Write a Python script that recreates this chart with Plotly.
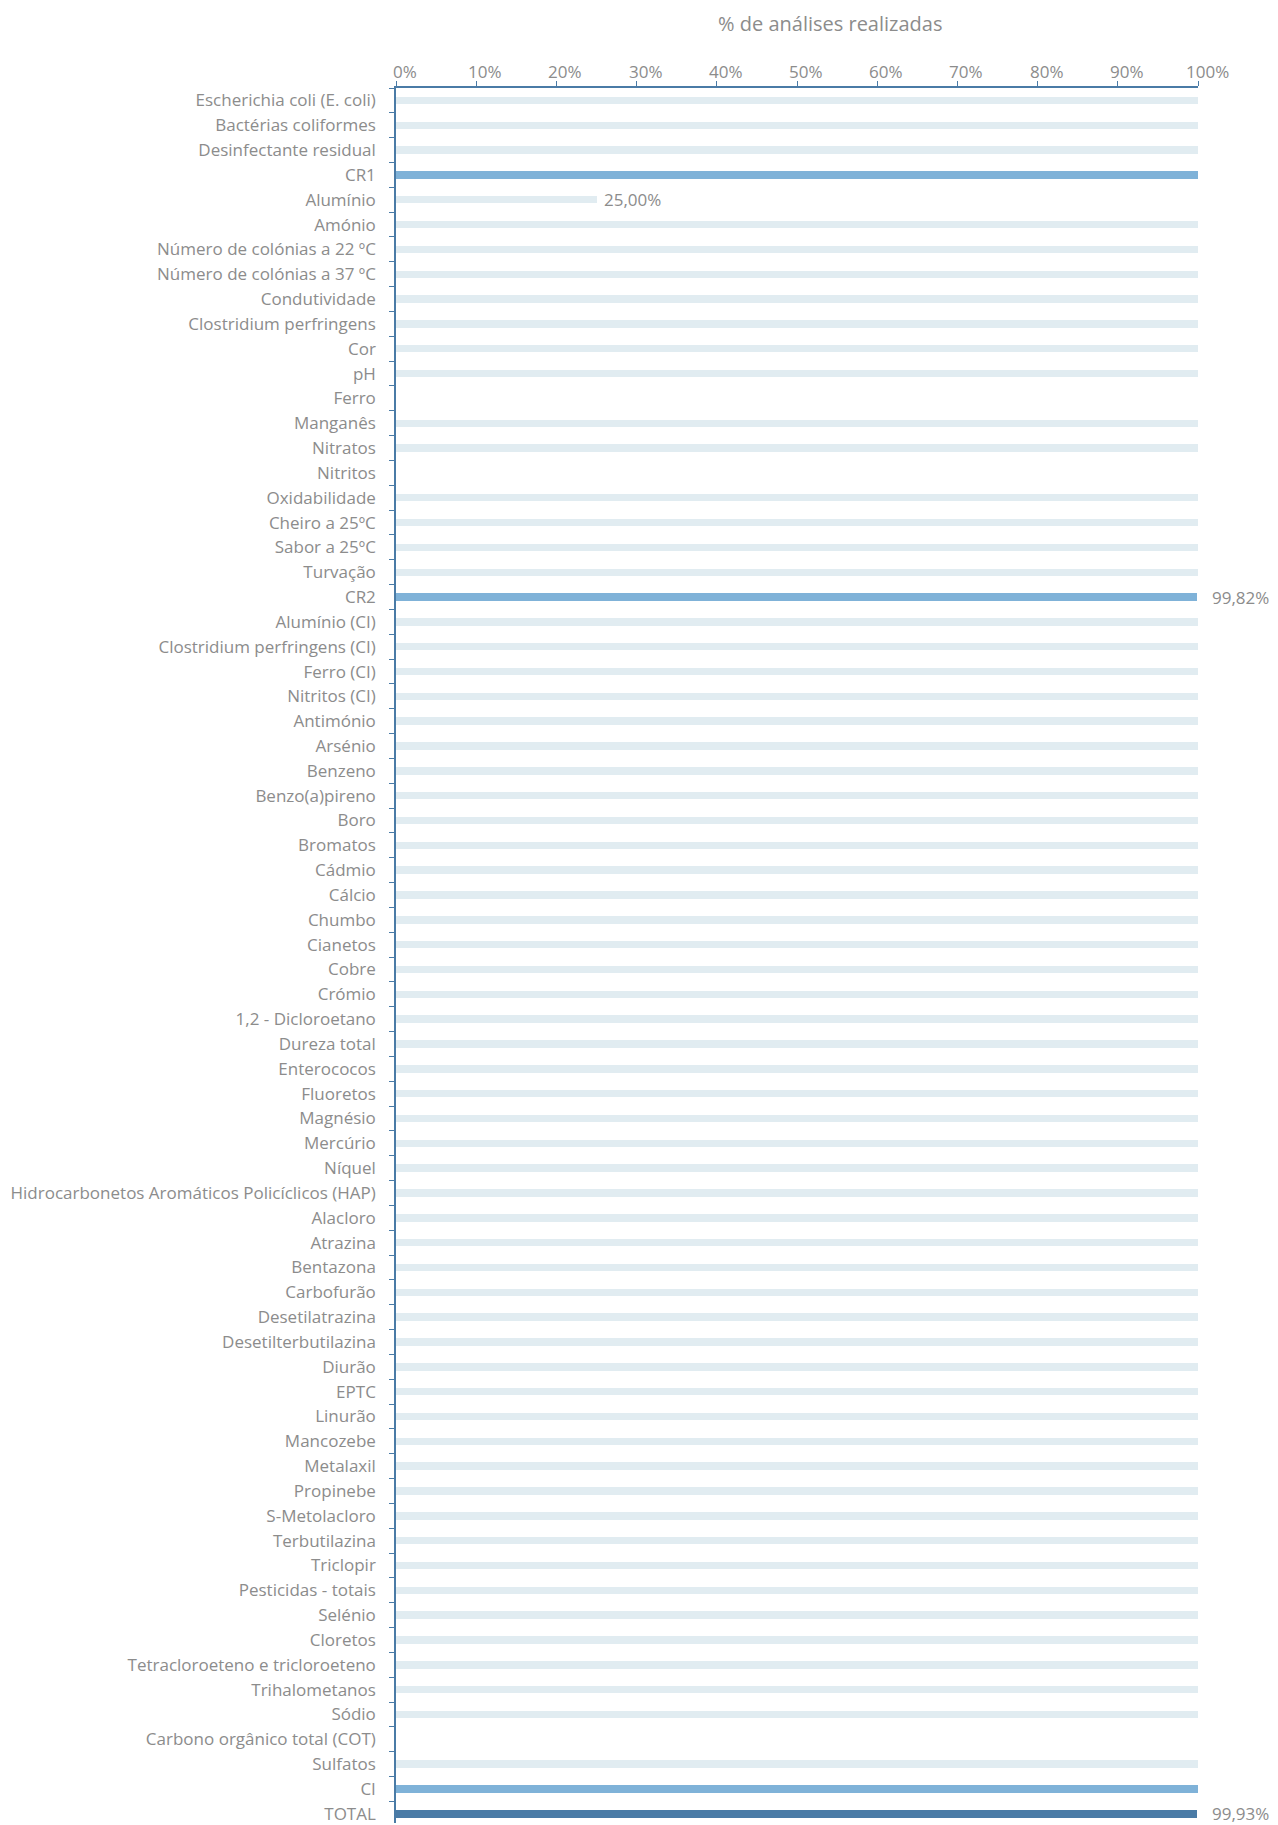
import plotly.graph_objects as go

categories = [
    "Escherichia coli (E. coli)", "Bactérias coliformes", "Desinfectante residual", "CR1",
    "Alumínio", "Amónio", "Número de colónias a 22 ºC", "Número de colónias a 37 ºC",
    "Condutividade", "Clostridium perfringens", "Cor", "pH", "Ferro", "Manganês",
    "Nitratos", "Nitritos", "Oxidabilidade", "Cheiro a 25ºC", "Sabor a 25ºC", "Turvação",
    "CR2", "Alumínio (CI)", "Clostridium perfringens (CI)", "Ferro (CI)", "Nitritos (CI)",
    "Antimónio", "Arsénio", "Benzeno", "Benzo(a)pireno", "Boro", "Bromatos", "Cádmio",
    "Cálcio", "Chumbo", "Cianetos", "Cobre", "Crómio", "1,2 - Dicloroetano",
    "Dureza total", "Enterococos", "Fluoretos", "Magnésio", "Mercúrio", "Níquel",
    "Hidrocarbonetos Aromáticos Policíclicos (HAP)", "Alacloro", "Atrazina", "Bentazona",
    "Carbofurão", "Desetilatrazina", "Desetilterbutilazina", "Diurão", "EPTC", "Linurão",
    "Mancozebe", "Metalaxil", "Propinebe", "S-Metolacloro", "Terbutilazina", "Triclopir",
    "Pesticidas - totais", "Selénio", "Cloretos", "Tetracloroeteno e tricloroeteno",
    "Trihalometanos", "Sódio", "Carbono orgânico total (COT)", "Sulfatos", "CI", "TOTAL",
]

values = [
    100, 100, 100, 100,
    25, 100, 100, 100,
    100, 100, 100, 100, 0, 100,
    100, 0, 100, 100, 100, 100,
    99.82, 100, 100, 100, 100,
    100, 100, 100, 100, 100, 100, 100,
    100, 100, 100, 100, 100, 100,
    100, 100, 100, 100, 100, 100,
    100, 100, 100, 100,
    100, 100, 100, 100, 100, 100,
    100, 100, 100, 100, 100, 100,
    100, 100, 100, 100,
    100, 100, 0, 100, 100, 99.93,
]

# categories that get a value label
labelled = {"Alumínio": "25,00%", "CR2": "99,82%", "TOTAL": "99,93%"}

x_ticks = [0, 10, 20, 30, 40, 50, 60, 70, 80, 90, 100]
x_tick_labels = ["0%", "10%", "20%", "30%", "40%", "50%", "60%", "70%", "80%", "90%", "100%"]

group_items = {"CR1", "CR2", "CI"}
total_items = {"TOTAL"}

LIGHT = "#E1ECF1"
MID = "#7FB2D8"
DARK = "#4A7BA6"
TEXT = "#8C8C8C"
AXIS = "#4A7BA6"
FONT = "Open Sans"

colors = []
for c in categories:
    if c in total_items:
        colors.append(DARK)
    elif c in group_items:
        colors.append(MID)
    else:
        colors.append(LIGHT)

fig = go.Figure(
    go.Bar(
        x=values,
        y=categories,
        orientation="h",
        marker=dict(color=colors, line=dict(width=0)),
        width=0.3,
        hoverinfo="skip",
    )
)

for c, lab in labelled.items():
    v = values[categories.index(c)]
    fig.add_annotation(
        x=v, y=c, text=lab, showarrow=False, xanchor="left",
        xshift=5 if v < 50 else 13,
        font=dict(family=FONT, size=17, color=TEXT),
    )

# top axis tick labels (slightly offset to the right, as in the original)
for tv, tl in zip(x_ticks, x_tick_labels):
    fig.add_annotation(
        x=tv, y=1, xref="x", yref="paper", text=tl, showarrow=False,
        xanchor="center", yanchor="middle", xshift=9, yshift=17,
        font=dict(family=FONT, size=17, color=TEXT),
    )

fig.add_annotation(
    x=0.5415, y=1, xref="paper", yref="paper", yanchor="bottom", yshift=49,
    text="% de análises realizadas", showarrow=False,
    font=dict(family=FONT, size=20, color=TEXT),
)

n = len(categories)
fig.update_layout(
    width=1270,
    height=1817,
    margin=dict(l=388, r=80, t=80, b=0, pad=0),
    plot_bgcolor="white",
    paper_bgcolor="white",
    showlegend=False,
    font=dict(family=FONT, size=17, color=TEXT),
    bargap=0,
)
fig.update_xaxes(
    side="top",
    range=[0, 100],
    tickvals=x_ticks,
    showticklabels=False,
    showgrid=False,
    zeroline=False,
    showline=True,
    linecolor=AXIS,
    linewidth=1.5,
    ticks="outside",
    ticklen=5,
    tickcolor=AXIS,
    fixedrange=True,
)
fig.update_yaxes(
    type="category",
    categoryorder="array",
    categoryarray=categories,
    range=[n - 0.63, -0.5],
    showgrid=False,
    zeroline=False,
    showline=True,
    linecolor=AXIS,
    linewidth=1.5,
    ticks="outside",
    ticklen=5,
    tickcolor=AXIS,
    tickson="boundaries",
    tickfont=dict(family=FONT, size=17, color=TEXT),
    ticklabelstandoff=15,
    fixedrange=True,
)

fig.write_html("out.html")
